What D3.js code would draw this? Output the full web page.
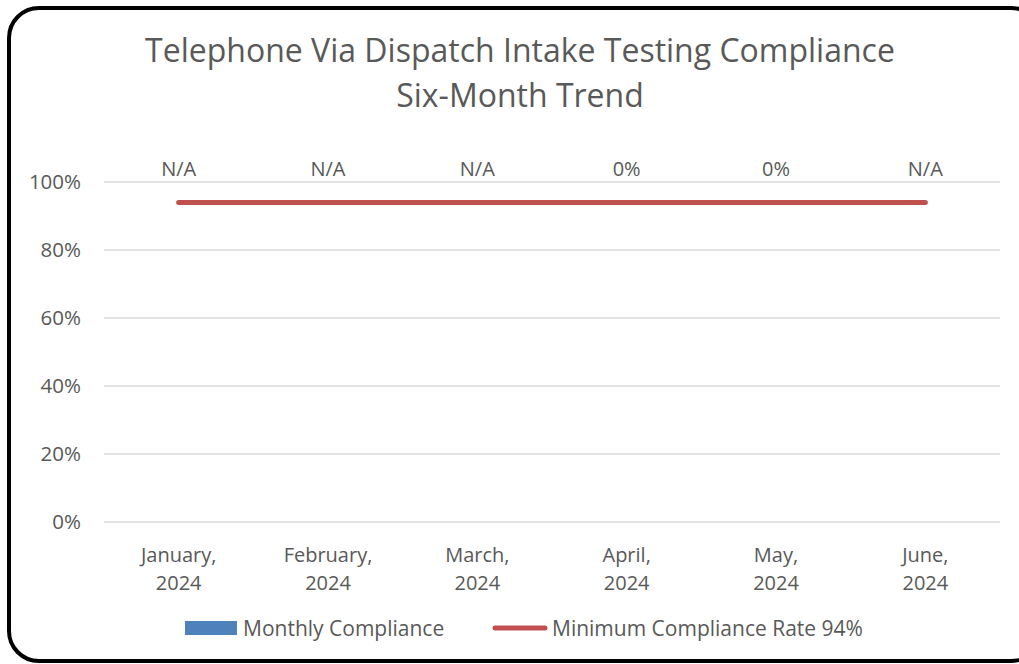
<!DOCTYPE html>
<html>
<head>
<meta charset="utf-8">
<script src="https://cdn.jsdelivr.net/npm/d3@7"></script>
<style>
  body { margin: 0; background: #fff; }
  svg text { font-family: "Open Sans", "Noto Sans", sans-serif; fill: #595959; }
</style>
</head>
<body>
<svg id="chart"></svg>
<script>
// Chart data
const months = ["January, 2024", "February, 2024", "March, 2024", "April, 2024", "May, 2024", "June, 2024"];
const monthlyCompliance = [null, null, null, 0, 0, null];   // null = N/A
const minimumRate = [0.94, 0.94, 0.94, 0.94, 0.94, 0.94];
const yTicks = [0, 0.2, 0.4, 0.6, 0.8, 1.0];
const titleLines = ["Telephone Via Dispatch Intake Testing Compliance", "Six-Month Trend"];
const legendNames = ["Monthly Compliance", "Minimum Compliance Rate 94%"];

const width = 1019, height = 664;
const margin = { top: 182, right: 19, bottom: 142, left: 104 };

const svg = d3.select("#chart")
    .attr("width", width)
    .attr("height", height);

// Rounded frame
svg.append("rect")
    .attr("x", 9).attr("y", 8)
    .attr("width", 1032).attr("height", 653)
    .attr("rx", 30).attr("ry", 30)
    .attr("fill", "#fff")
    .attr("stroke", "#000")
    .attr("stroke-width", 4);

// Title
svg.append("g").selectAll("text")
    .data(titleLines)
    .join("text")
    .attr("x", 520)
    .attr("y", (d, i) => 62 + i * 45)
    .attr("text-anchor", "middle")
    .style("font-size", "32px")
    .text(d => d);

const x = d3.scaleBand()
    .domain(months)
    .range([margin.left, width - margin.right]);

const y = d3.scaleLinear()
    .domain([0, 1])
    .range([height - margin.bottom, margin.top]);

// Gridlines
svg.append("g").selectAll("line")
    .data(yTicks)
    .join("line")
    .attr("x1", x.range()[0])
    .attr("x2", x.range()[1])
    .attr("y1", d => y(d))
    .attr("y2", d => y(d))
    .attr("stroke", "#d9d9d9")
    .attr("stroke-width", 1.3);

// Y axis labels
const yAxis = svg.append("g")
    .attr("transform", `translate(${x.range()[0]},0)`)
    .call(d3.axisLeft(y).tickValues(yTicks).tickFormat(d3.format(".0%")).tickSize(0).tickPadding(23));
yAxis.select(".domain").remove();
yAxis.selectAll("text")
    .style("font-size", "20.5px")
    .style("font-family", "\"Open Sans\", sans-serif")
    .attr("fill", "#595959");

// X axis labels (two lines)
const xLabels = svg.append("g").selectAll("text")
    .data(months)
    .join("text")
    .attr("x", d => x(d) + x.bandwidth() / 2)
    .attr("y", 562)
    .attr("text-anchor", "middle")
    .style("font-size", "20px");
xLabels.selectAll("tspan")
    .data(d => [d.split(" ")[0], d.split(" ")[1]])
    .join("tspan")
    .attr("x", function() { return this.parentNode.getAttribute("x"); })
    .attr("dy", (d, i) => i === 0 ? 0 : 28)
    .text(d => d);

// Monthly compliance bars (zero height where 0)
const barW = x.bandwidth() * 0.5;
svg.append("g").selectAll("rect")
    .data(monthlyCompliance.map((v, i) => ({ m: months[i], v })).filter(d => d.v !== null))
    .join("rect")
    .attr("x", d => x(d.m) + (x.bandwidth() - barW) / 2)
    .attr("y", d => y(d.v))
    .attr("width", barW)
    .attr("height", d => y(0) - y(d.v))
    .attr("fill", "#4F81BD");

// Minimum compliance line
const line = d3.line()
    .x((d, i) => x(months[i]) + x.bandwidth() / 2)
    .y(d => y(d));
svg.append("path")
    .datum(minimumRate)
    .attr("d", line)
    .attr("fill", "none")
    .attr("stroke", "#C0504D")
    .attr("stroke-width", 5)
    .attr("stroke-linecap", "round");

// Data labels
svg.append("g").selectAll("text")
    .data(monthlyCompliance)
    .join("text")
    .attr("x", (d, i) => x(months[i]) + x.bandwidth() / 2)
    .attr("y", 176)
    .attr("text-anchor", "middle")
    .style("font-size", "20px")
    .text(d => d === null ? "N/A" : d3.format(".0%")(d));

// Legend
const legend = svg.append("g");
legend.append("rect")
    .attr("x", 185).attr("y", 621)
    .attr("width", 52).attr("height", 14)
    .attr("fill", "#4F81BD");
legend.append("text")
    .attr("x", 243).attr("y", 636)
    .style("font-size", "21px")
    .text(legendNames[0]);
legend.append("line")
    .attr("x1", 495).attr("x2", 545)
    .attr("y1", 628).attr("y2", 628)
    .attr("stroke", "#C0504D")
    .attr("stroke-width", 5)
    .attr("stroke-linecap", "round");
legend.append("text")
    .attr("x", 552).attr("y", 636)
    .style("font-size", "21px")
    .text(legendNames[1]);
</script>
</body>
</html>
